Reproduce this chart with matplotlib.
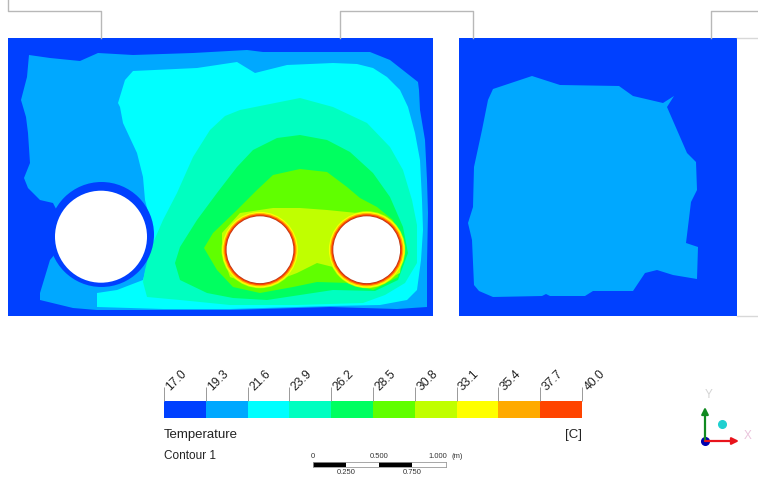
#!/usr/bin/env python
"""
Temperature contour of two rooms with pipes, with legend bar, scale bar and triad
"""

import matplotlib
matplotlib.use("Agg")
import matplotlib.pyplot as plt
from matplotlib.patches import Circle
import numpy as np

plt.rcParams['font.family'] = ['Liberation Sans', 'DejaVu Sans']

# Legend levels and colours
LEVELS = [17.0, 19.3, 21.6, 23.9, 26.2, 28.5, 30.8, 33.1, 35.4, 37.7, 40.0]
COLOURS = ['#0040ff', '#00a8ff', '#00ffff', '#00ffc0', '#00ff60', '#60ff00',
           '#c0ff00', '#ffff00', '#ffaa00', '#ff4400']
LINE_GREY = '#b8b8b8'

# Contour outlines in pixels (x, y)
band_193 = [(29, 55), (50, 58), (80, 61), (98, 53), (133, 55), (193, 53), (247, 50),
            (263, 52), (370, 52), (390, 60), (418, 82), (419, 90), (420, 110), (425, 140),
            (427, 180), (428, 213), (427, 263), (427, 307), (397, 309),
            (330, 307), (230, 310), (163, 310), (97, 310), (73, 308), (40, 300),
            (40, 293), (50, 260), (70, 236), (53, 203), (40, 200), (28, 188),
            (24, 178), (30, 163), (28, 133), (26, 117), (21, 100), (27, 77)]
band_216 = [(133, 71), (197, 68), (237, 62), (255, 73), (287, 65), (333, 63), (357, 64),
            (373, 68), (387, 77), (400, 90), (408, 107), (415, 133), (420, 160),
            (422, 200), (423, 230), (421, 260), (417, 290), (407, 300), (380, 305),
            (330, 306), (230, 309), (163, 309), (97, 307), (97, 293), (117, 290),
            (143, 280), (150, 253), (153, 227), (150, 220), (145, 200), (143, 177),
            (137, 153), (123, 123), (120, 107), (118, 103), (125, 80)]
band_239 = [(143, 282), (145, 270), (150, 250), (163, 220), (177, 193), (193, 157),
            (210, 130), (225, 116), (240, 110), (280, 102), (300, 98), (333, 107),
            (367, 123), (390, 147), (403, 170), (412, 200), (417, 225), (417, 263),
            (405, 283), (385, 295), (363, 303), (297, 305), (230, 305), (180, 300),
            (147, 297)]
band_262 = [(175, 263), (180, 247), (197, 220), (217, 193), (237, 167), (253, 150),
            (277, 138), (300, 135), (327, 140), (350, 152), (373, 173), (390, 197),
            (403, 227), (408, 253), (398, 280), (375, 291), (333, 290), (300, 295),
            (267, 300), (233, 298), (207, 293), (180, 280)]
band_285 = [(204, 248), (213, 233), (237, 210), (257, 190), (273, 175), (300, 169),
            (327, 172), (347, 187), (360, 198), (377, 207), (393, 220), (402, 247),
            (398, 277), (373, 290), (350, 283), (317, 282), (293, 287), (260, 293),
            (233, 287), (217, 270)]
band_308 = [(222, 233), (240, 213), (273, 208), (300, 208), (327, 210), (357, 213),
            (387, 217), (403, 247), (400, 273), (370, 287), (343, 273), (333, 267),
            (317, 263), (297, 273), (260, 287), (230, 277), (222, 253)]
right_room = [(493, 89), (532, 76), (560, 85), (619, 86), (633, 96), (663, 103),
              (674, 96), (667, 107), (687, 153), (696, 162), (697, 190), (691, 202),
              (686, 243), (698, 247), (697, 279), (673, 275), (657, 270), (645, 273),
              (633, 291), (593, 291), (585, 296), (550, 296), (546, 294), (542, 296),
              (493, 297), (479, 291), (474, 285), (472, 240), (468, 223), (473, 207),
              (474, 167), (482, 130), (488, 100)]

fig = plt.figure(figsize=(7.58, 4.86), dpi=100)
ax = fig.add_axes([0, 0, 1, 1])
ax.set_xlim(0, 758)
ax.set_ylim(486, 0)
ax.axis('off')

# Grey outline of the geometry above and beside the rooms
ax.plot([8, 8, 100.5, 100.5], [0, 11, 11, 38], color=LINE_GREY, lw=1)
ax.plot([340, 340, 472.5, 472.5], [38, 11, 11, 38], color=LINE_GREY, lw=1)
ax.plot([758, 711, 711], [11, 11, 38], color=LINE_GREY, lw=1)
ax.plot([737, 758], [38, 38], color='#d8d8d8', lw=1)
ax.plot([737, 758], [316, 316], color='#d8d8d8', lw=1)

# Left room
ax.fill([8, 432.5, 432.5, 8], [38, 38, 316, 316], color=COLOURS[0], lw=0)
bands = [band_193, band_216, band_239, band_262, band_285, band_308]
for i, band in enumerate(bands):
    pts = np.array(band)
    ax.fill(pts[:, 0], pts[:, 1], color=COLOURS[i + 1], lw=0)

# Cold pipe with its dark ring
ax.add_patch(Circle((101.5, 234.5), 52.5, color=COLOURS[0], lw=0))
ax.add_patch(Circle((101, 236.7), 46, color='white', lw=0))

# Hot pipes with thin hot rings
for cx in (260, 366.7):
    for r, c in ((38.5, COLOURS[6]), (37.8, COLOURS[7]), (36.6, COLOURS[8]),
                 (35.4, COLOURS[9]), (34.2, '#b83a18'), (33.4, 'white')):
        ax.add_patch(Circle((cx, 249.7), r, color=c, lw=0))

# Right room
ax.fill([459, 736.5, 736.5, 459], [38, 38, 316, 316], color=COLOURS[0], lw=0)
pts = np.array(right_room)
ax.fill(pts[:, 0], pts[:, 1], color=COLOURS[1], lw=0)

ax.text(164, 435, 'Temperature', fontsize=9.5, va='center', color='#222222')
ax.text(582, 435, '[C]', fontsize=9.5, va='center', ha='right', color='#222222')
ax.text(164, 455.5, 'Contour 1', fontsize=8.5, va='center', color='#222222')

# Triad
ax.annotate('', xy=(705, 407), xytext=(705, 441),
            arrowprops=dict(arrowstyle='-|>', color='#108a20', lw=1.6, shrinkA=0, shrinkB=0))
ax.annotate('', xy=(739, 441), xytext=(705, 441),
            arrowprops=dict(arrowstyle='-|>', color='#e8141c', lw=1.6, shrinkA=0, shrinkB=0))
ax.plot([705], [441], 'o', color='#0000b0', ms=5.5)
ax.plot([722], [424], 'o', color='#20d0d0', ms=5.5)
ax.text(709, 395, 'Y', fontsize=8.5, color='#d4d4d4', ha='center', va='center')
ax.text(748, 436, 'X', fontsize=8.5, color='#eac4dc', ha='center', va='center')

# Legend bar, on its own axes so the levels set the scale
bar_ax = fig.add_axes([164 / 758, 1 - 418 / 486, 418 / 758, 17 / 486])
for i, c in enumerate(COLOURS):
    bar_ax.barh(0, LEVELS[i + 1] - LEVELS[i], left=LEVELS[i], height=1, color=c, lw=0)
bar_ax.set_xlim(LEVELS[0], LEVELS[-1])
bar_ax.set_ylim(-0.5, 0.5)
bar_ax.set_yticks([])
bar_ax.xaxis.tick_top()
bar_ax.set_xticks(LEVELS)
bar_ax.tick_params(axis='x', length=10, width=0.7, color='#999999', labeltop=False)
for spine in bar_ax.spines.values():
    spine.set_visible(False)

# Rotated level labels, starting at the top of each tick
for v in LEVELS:
    bar_ax.text(v, 1.94, '%.1f' % v, rotation=45, ha='left', va='top',
                rotation_mode='anchor', fontsize=8.8, color='#222222',
                transform=bar_ax.get_xaxis_transform(), clip_on=False)

# Scale bar in metres
SCALE_STEPS = [0, 0.25, 0.5, 0.75, 1.0]
scale_ax = fig.add_axes([313 / 758, 1 - 467 / 486, 132.5 / 758, 5 / 486])
for i in range(4):
    scale_ax.barh(0, 0.25, left=SCALE_STEPS[i], height=1,
                  color='black' if i % 2 == 0 else 'white', lw=0)
scale_ax.set_xlim(0, 1)
scale_ax.set_ylim(-0.5, 0.5)
scale_ax.set_xticks([])
scale_ax.set_yticks([])
for spine in scale_ax.spines.values():
    spine.set_color('#999999')
    spine.set_linewidth(0.6)

ax.text(313, 456, '0', fontsize=5.5, ha='center', va='center', color='#333333')
ax.text(379, 456, '0.500', fontsize=5.5, ha='center', va='center', color='#333333')
ax.text(438, 456, '1.000', fontsize=5.5, ha='center', va='center', color='#333333')
ax.text(457, 456, '(m)', fontsize=5.5, ha='center', va='center', color='#333333')
ax.text(346, 472, '0.250', fontsize=5.5, ha='center', va='center', color='#333333')
ax.text(412, 472, '0.750', fontsize=5.5, ha='center', va='center', color='#333333')

fig.savefig('out.png', dpi=100)
